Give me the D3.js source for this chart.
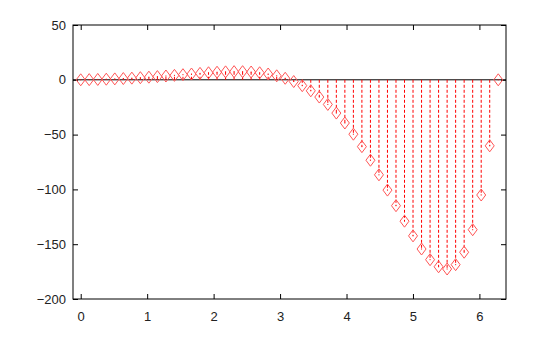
<!DOCTYPE html>
<html>
<head>
<meta charset="utf-8">
<script src="https://cdn.jsdelivr.net/npm/d3@7"></script>
<style>
  body { margin: 0; background: #fff; }
</style>
</head>
<body>
<div id="chart"></div>
<script>
// sample positions (50 samples over 0..2pi) and the values
var xs = d3.range(50).map(function(i) { return i * 2 * Math.PI / 49; });
var ys = [0, 0.15, 0.33, 0.55, 0.82, 1.14, 1.5, 1.92, 2.39, 2.9,
  3.46, 4.05, 4.66, 5.27, 5.87, 6.42, 6.9, 7.25, 7.44, 7.41,
  7.09, 6.41, 5.29, 3.65, 1.39, -1.58, -5.36, -10.05, -15.73, -22.48,
  -30.36, -39.41, -49.63, -61.0, -73.4, -86.7, -100.64, -114.87, -129.0, -142.4,
  -154.38, -164.12, -170.6, -172.63, -168.67, -157.32, -136.79, -105.12, -60.25, 0];
var xTicks = [0, 1, 2, 3, 4, 5, 6];
var yTicks = [50, 0, -50, -100, -150, -200];

var margin = {top: 25, right: 54, bottom: 38, left: 73},
width = 560 - margin.left - margin.right,
height = 337 - margin.top - margin.bottom;

var x = d3.scaleLinear().domain([-0.116, 6.4]).range([0, width]);
var y = d3.scaleLinear().domain([-200, 50]).range([height, 0]);

var svg = d3.select("#chart").append("svg")
.attr("width", 560)
.attr("height", 337)
.append("g")
.attr("transform", "translate(" + margin.left + "," + margin.top + ")");

// axes with inward ticks, mirrored on top and right
var tk = 5;
var fmt = d3.format("d");
svg.append("g")
.attr("class", "axis")
.attr("transform", "translate(0," + height + ")")
.call(d3.axisBottom(x).tickValues(xTicks).tickFormat(fmt).tickSize(-tk).tickPadding(tk + 8));
svg.append("g")
.attr("class", "axis")
.call(d3.axisTop(x).tickValues(xTicks).tickSize(-tk).tickFormat(""));
svg.append("g")
.attr("class", "axis")
.call(d3.axisLeft(y).tickValues(yTicks).tickFormat(fmt).tickSize(-tk).tickPadding(tk + 2));
svg.append("g")
.attr("class", "axis")
.attr("transform", "translate(" + width + ",0)")
.call(d3.axisRight(y).tickValues(yTicks).tickSize(-tk).tickFormat(""));

svg.selectAll(".axis .domain").remove();
svg.selectAll(".axis")
.attr("font-family", "'Liberation Sans', Arial, sans-serif")
.attr("font-size", 13);
svg.selectAll(".tick line").attr("stroke", "#000");
svg.selectAll(".tick text").attr("fill", "#222");

// border
svg.append("rect")
.attr("x", 0).attr("y", 0)
.attr("width", width).attr("height", height)
.attr("fill", "none").attr("stroke", "#000").attr("stroke-width", 1);

// zero axis
svg.append("line")
.attr("x1", 0).attr("x2", width)
.attr("y1", y(0)).attr("y2", y(0))
.attr("stroke", "#000").attr("stroke-width", 1);

var pts = xs.map(function(d, i) { return {x: d, y: ys[i]}; });

// impulses
svg.selectAll(".stem")
.data(pts)
.enter().append("line")
.attr("class", "stem")
.attr("x1", function(d) { return x(d.x); })
.attr("x2", function(d) { return x(d.x); })
.attr("y1", y(0))
.attr("y2", function(d) { return y(d.y); })
.attr("stroke", "#f00")
.attr("stroke-width", 1)
.attr("stroke-dasharray", "3,2");

// open diamonds
svg.selectAll(".pt")
.data(pts)
.enter().append("path")
.attr("class", "pt")
.attr("d", function(d) {
  var cx = x(d.x), cy = y(d.y);
  return "M" + cx + "," + (cy - 6) + "L" + (cx + 4.5) + "," + cy +
    "L" + cx + "," + (cy + 6) + "L" + (cx - 4.5) + "," + cy + "Z";
})
.attr("fill", "none")
.attr("stroke", "#f55")
.attr("stroke-width", 1);

// centre dots
svg.selectAll(".dot")
.data(pts)
.enter().append("rect")
.attr("class", "dot")
.attr("x", function(d) { return x(d.x) - 0.5; })
.attr("y", function(d) { return y(d.y) - 0.5; })
.attr("width", 1).attr("height", 1)
.attr("fill", "#f00");
</script>
</body>
</html>
